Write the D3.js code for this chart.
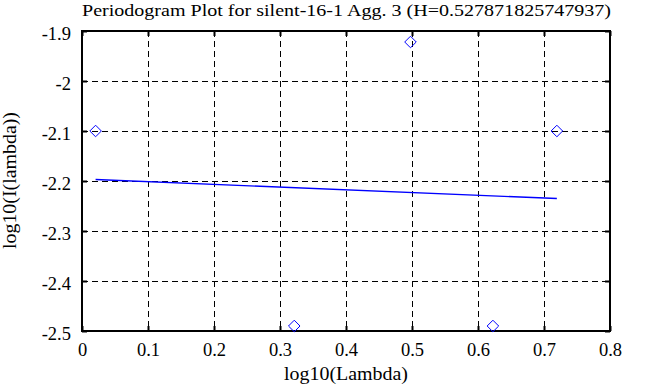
<!DOCTYPE html>
<html>
<head>
<meta charset="utf-8">
<script src="https://cdn.jsdelivr.net/npm/d3@7"></script>
<style>
    body { margin: 0; background: #ffffff; }
    svg text { font-family: "Liberation Serif", "Times New Roman", serif; fill: #000000; }
</style>
</head>
<body>
<svg id="chart" width="658" height="387"></svg>
<script>
// periodogram points
let xVals = [0.0206, 0.3216, 0.4977, 0.6226, 0.7195];
let yVals = [-2.100, -2.490, -1.922, -2.490, -2.100];
// fitted line endpoints
let fitX = [0.0206, 0.7195];
let fitY = [-2.197, -2.235];
let xTicks = [0, 0.1, 0.2, 0.3, 0.4, 0.5, 0.6, 0.7, 0.8];
let yTicks = [-1.9, -2, -2.1, -2.2, -2.3, -2.4, -2.5];

let titleText = 'Periodogram Plot for silent-16-1 Agg. 3 (H=0.527871825747937)';
let pointColour = '#0000ff';
let fontSize = 18.5;

function fmt(d) {
    // plain hyphen for minus, no trailing zeros
    return String(+d.toFixed(1));
}

function drawChart() {
    let svg = d3.select('#chart');
    let left = 82, top = 31, right = 610, bottom = 331;
    let width = right - left;
    let height = bottom - top;

    let chart = svg.append('g')
        .attr('transform', `translate(${left}, ${top})`);

    const xScale = d3.scaleLinear().domain([0, 0.8]).range([0, width]);
    const yScale = d3.scaleLinear().domain([-2.5, -1.9]).range([height, 0]);

    //dashed grid
    chart.append('g').selectAll('line')
        .data(xTicks.slice(1, -1))
        .enter()
        .append('line')
        .attr('x1', d => Math.round(xScale(d)) + 0.5).attr('x2', d => Math.round(xScale(d)) + 0.5)
        .attr('y1', 0).attr('y2', height)
        .attr('stroke', '#000').attr('stroke-width', 1)
        .attr('stroke-dasharray', '6,4');

    chart.append('g').selectAll('line')
        .data(yTicks.slice(1, -1))
        .enter()
        .append('line')
        .attr('y1', d => Math.round(yScale(d)) + 0.5).attr('y2', d => Math.round(yScale(d)) + 0.5)
        .attr('x1', 0).attr('x2', width)
        .attr('stroke', '#000').attr('stroke-width', 1)
        .attr('stroke-dasharray', '6,4');

    //axes, ticks pointing inward
    let xAxis = chart.append('g')
        .attr('transform', 'translate(0, ' + height + ')')
        .call(d3.axisBottom(xScale).tickValues(xTicks).tickSize(-5).tickPadding(12).tickFormat(fmt));
    let xAxisTop = chart.append('g')
        .call(d3.axisTop(xScale).tickValues(xTicks).tickSize(-5).tickFormat(''));
    let yAxis = chart.append('g')
        .call(d3.axisLeft(yScale).tickValues(yTicks).tickSize(-5).tickPadding(11).tickFormat(fmt));
    let yAxisRight = chart.append('g')
        .attr('transform', `translate(${width}, 0)`)
        .call(d3.axisRight(yScale).tickValues(yTicks).tickSize(-5).tickFormat(''));

    [xAxis, xAxisTop, yAxis, yAxisRight].forEach(a => {
        a.attr('font-family', '"Liberation Serif", serif').attr('font-size', fontSize);
        a.select('.domain').remove();
        a.selectAll('line').attr('stroke', '#000').attr('stroke-width', 2);
        a.selectAll('text').attr('fill', '#000');
    });
    yAxis.selectAll('text').attr('dy', '0.45em');

    //frame
    chart.append('rect')
        .attr('x', 0).attr('y', 0)
        .attr('width', width).attr('height', height)
        .attr('fill', 'none')
        .attr('stroke', '#000')
        .attr('stroke-width', 2);

    //fitted line
    chart.append('line')
        .attr('x1', xScale(fitX[0])).attr('y1', yScale(fitY[0]))
        .attr('x2', xScale(fitX[1])).attr('y2', yScale(fitY[1]))
        .attr('stroke', pointColour)
        .attr('stroke-width', 1.3);

    //diamonds
    let symbol = d3.symbol().type(d3.symbolDiamond2).size(85);
    chart.append('g').selectAll('path')
        .data(xVals)
        .enter()
        .append('path')
        .attr('d', symbol)
        .attr('transform', (d, i) => `translate(${xScale(d)}, ${yScale(yVals[i])})`)
        .attr('fill', 'none')
        .attr('stroke', pointColour)
        .attr('stroke-width', 1);

    //labels (stretched to the widths of the original's wider font)
    svg.append('text')
        .attr('x', left)
        .attr('y', 16)
        .attr('font-size', 17)
        .attr('textLength', 529)
        .attr('lengthAdjust', 'spacingAndGlyphs')
        .text(titleText);

    svg.append('text')
        .attr('x', left + width / 2 - 62)
        .attr('y', 380)
        .attr('font-size', 18)
        .attr('textLength', 124)
        .attr('lengthAdjust', 'spacingAndGlyphs')
        .text('log10(Lambda)');

    svg.append('text')
        .attr('x', -(top + height / 2) - 68)
        .attr('y', 16)
        .attr('transform', 'rotate(-90)')
        .attr('font-size', 18)
        .attr('textLength', 137)
        .attr('lengthAdjust', 'spacingAndGlyphs')
        .text('log10(I(lambda))');
}

drawChart();
</script>
</body>
</html>
